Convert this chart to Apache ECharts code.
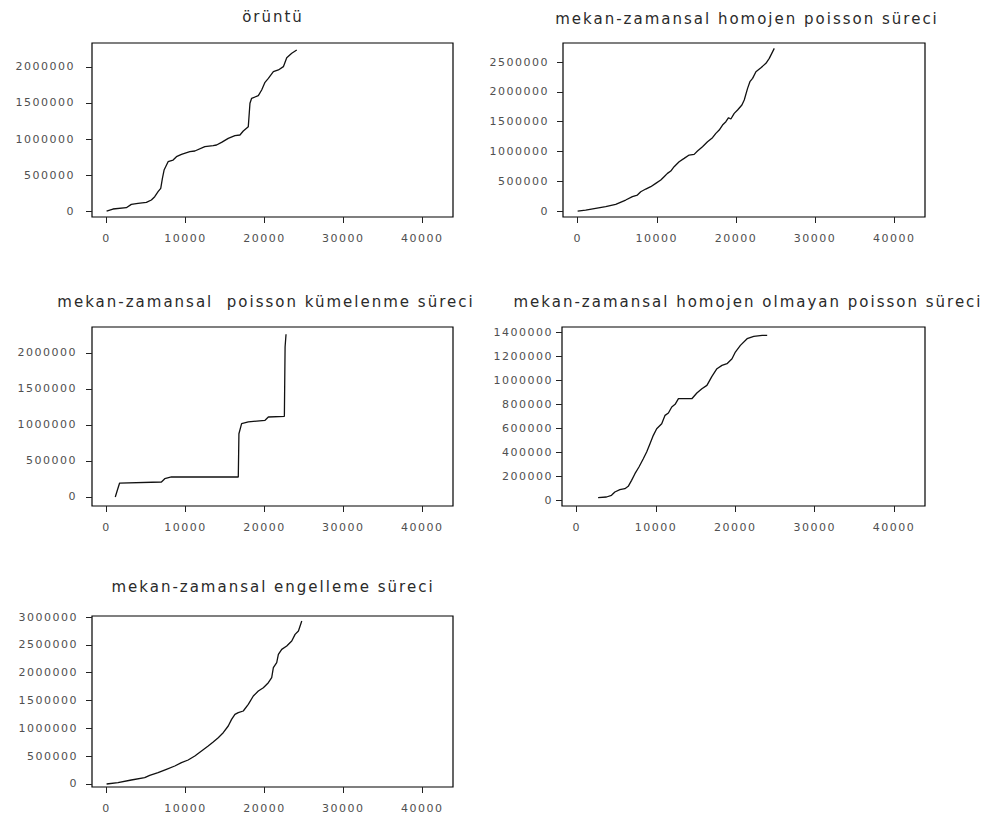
<!DOCTYPE html>
<html>
<head>
<meta charset="utf-8">
<script src="https://cdn.jsdelivr.net/npm/echarts@6/dist/echarts.min.js"></script>
<style>
  html, body { margin: 0; padding: 0; background: #fff; }
  #chart { width: 984px; height: 832px; }
  #chart text { letter-spacing: 1.5px; }
  #chart text[style*="15px"] { letter-spacing: 2px; }
</style>
</head>
<body>
<div id="chart"></div>
<script>
// Shared x-axis ticks (time)
const xTicks = [0, 10000, 20000, 30000, 40000];

// örüntü
const patternX = [0, 805, 2499, 3134, 3981, 5040, 5675, 6099, 6522, 6861, 7073, 7285, 7793, 8428, 8852, 9487, 10546, 11181, 12452, 13510, 13934, 14569, 15416, 16264, 16899, 17322, 17957, 18170, 18381, 19228, 19652, 20075, 20499, 21134, 21770, 22405, 22829, 23464, 24099];
const patternY = [0, 27800, 46300, 92600, 106500, 120400, 152800, 199100, 268500, 314800, 453700, 569400, 685200, 708300, 754600, 787000, 824100, 833300, 893500, 907400, 916700, 953700, 1009300, 1046300, 1055600, 1111100, 1171300, 1495400, 1564800, 1601900, 1680600, 1787000, 1842600, 1935200, 1958300, 2004600, 2129600, 2189800, 2236100];
const patternTicks = [0, 500000, 1000000, 1500000, 2000000];

// homojen poisson
const homX = [0, 1013, 2278, 3544, 4810, 6076, 6920, 7553, 7975, 8607, 9240, 9873, 10506, 10928, 11350, 11772, 12194, 12826, 13460, 14092, 14725, 15147, 15780, 16413, 17046, 17468, 17890, 18312, 18734, 19072, 19367, 19789, 20211, 20760, 21055, 21477, 21772, 22110, 22532, 23165, 23797, 24219, 24852];
const homY = [0, 16800, 44700, 72700, 111900, 184600, 240500, 268500, 324400, 369100, 408300, 464200, 520100, 576100, 632000, 671200, 743900, 827800, 883700, 939600, 950800, 1006700, 1079500, 1163400, 1230500, 1303200, 1359100, 1443000, 1498900, 1566000, 1543700, 1638800, 1694700, 1778600, 1862500, 2058200, 2170100, 2226000, 2337800, 2405000, 2477700, 2561600, 2729400];
const homTicks = [0, 500000, 1000000, 1500000, 2000000, 2500000];

// poisson kümelenme
const clusterX = [1100, 1360, 1650, 6950, 7370, 8220, 16690, 16770, 17110, 17960, 20080, 20500, 22530, 22620, 22740];
const clusterY = [0, 93000, 194000, 208000, 254000, 278000, 278000, 879000, 1018000, 1042000, 1065000, 1111000, 1120000, 2083000, 2260000];
const clusterTicks = [0, 500000, 1000000, 1500000, 2000000];

// homojen olmayan poisson
const inhomX = [2700, 3755, 4388, 4810, 5443, 6076, 6498, 6920, 7342, 7848, 8397, 8819, 9240, 9662, 10084, 10717, 11139, 11561, 11983, 12405, 12826, 14514, 15147, 15780, 16413, 17046, 17679, 18312, 18945, 19578, 20000, 20633, 21477, 22321, 23376, 24009];
const inhomY = [19400, 25000, 38900, 66700, 86100, 94400, 113900, 163900, 219400, 275000, 344400, 400000, 469400, 538900, 594400, 636100, 705600, 725000, 775000, 797200, 844400, 844400, 891700, 927800, 955600, 1030600, 1094400, 1122200, 1136100, 1177800, 1233300, 1288900, 1344400, 1363900, 1372200, 1372200];
const inhomTicks = [0, 200000, 400000, 600000, 800000, 1000000, 1200000, 1400000];

// engelleme
const inhibX = [0, 1440, 3134, 4828, 5464, 6522, 7581, 8640, 9487, 10334, 11181, 12028, 12875, 13510, 14146, 14781, 15416, 15840, 16264, 16687, 17322, 17957, 18593, 19228, 19864, 20499, 20923, 21134, 21558, 21770, 22194, 22829, 23464, 23887, 24311, 24734];
const inhibY = [0, 23900, 71900, 113800, 155600, 203600, 263500, 323300, 383200, 431100, 503000, 592800, 682600, 754400, 832300, 922100, 1041900, 1161600, 1251400, 1281300, 1311300, 1431100, 1580800, 1670600, 1730400, 1820200, 1910000, 2089600, 2179500, 2329200, 2419000, 2478900, 2568700, 2688500, 2748300, 2928000];
const inhibTicks = [0, 500000, 1000000, 1500000, 2000000, 2500000, 3000000];

const titles = [
  'örüntü',
  'mekan-zamansal homojen poisson süreci',
  'mekan-zamansal  poisson kümelenme süreci',
  'mekan-zamansal homojen olmayan poisson süreci',
  'mekan-zamansal engelleme süreci'
];

const panels = [
  { x: patternX, y: patternY, yTicks: patternTicks, ymin: -83000, ymax: 2333000,
    grid: { left: 92, top: 43, width: 361, height: 174 }, title: [273, 9], ylabMargin: 17 },
  { x: homX, y: homY, yTicks: homTicks, ymin: -100000, ymax: 2819000,
    grid: { left: 563, top: 43, width: 362, height: 174 }, title: [747, 11], ylabMargin: 14 },
  { x: clusterX, y: clusterY, yTicks: clusterTicks, ymin: -125000, ymax: 2361000,
    grid: { left: 92, top: 327, width: 361, height: 179 }, title: [266, 294], ylabMargin: 15 },
  { x: inhomX, y: inhomY, yTicks: inhomTicks, ymin: -50000, ymax: 1442000,
    grid: { left: 562, top: 327, width: 363, height: 179 }, title: [748, 294], ylabMargin: 9 },
  { x: inhibX, y: inhibY, yTicks: inhibTicks, ymin: -54000, ymax: 3018000,
    grid: { left: 92, top: 616, width: 361, height: 171 }, title: [273, 579], ylabMargin: 14 }
];

const labelStyle = { fontFamily: 'DejaVu Sans', fontSize: 11, color: '#505050' };
const plain = v => String(v);

const option = {
  backgroundColor: '#fff',
  animation: false,
  title: panels.map((p, i) => ({
    text: titles[i],
    left: p.title[0],
    top: p.title[1],
    textAlign: 'center',
    padding: 0,
    textStyle: { fontFamily: 'DejaVu Sans', fontSize: 15, fontWeight: 'normal', color: '#2a2a2a' }
  })),
  grid: panels.map(p => Object.assign({
    show: true, borderColor: '#000', borderWidth: 1.2, backgroundColor: 'transparent',
    containLabel: false
  }, p.grid)),
  xAxis: panels.map((p, i) => ({
    type: 'value', gridIndex: i, min: -1850, max: 43900,
    position: 'bottom',
    axisLine: { show: false, onZero: false },
    splitLine: { show: false },
    axisTick: { show: true, inside: false, length: 6, customValues: xTicks,
      lineStyle: { color: '#222', width: 1 } },
    axisLabel: Object.assign({ customValues: xTicks, margin: 16, formatter: plain }, labelStyle)
  })),
  yAxis: panels.map((p, i) => ({
    type: 'value', gridIndex: i, min: p.ymin, max: p.ymax,
    position: 'left',
    axisLine: { show: false, onZero: false },
    splitLine: { show: false },
    axisTick: { show: true, inside: false, length: 6, customValues: p.yTicks,
      lineStyle: { color: '#222', width: 1 } },
    axisLabel: Object.assign({ customValues: p.yTicks, margin: p.ylabMargin, formatter: plain }, labelStyle)
  })),
  series: panels.map((p, i) => ({
    type: 'line',
    xAxisIndex: i, yAxisIndex: i,
    data: p.x.map((xv, k) => [xv, p.y[k]]),
    showSymbol: false,
    symbol: 'none',
    lineStyle: { color: '#111', width: 1.3 },
    silent: true
  }))
};

const chart = echarts.init(document.getElementById('chart'), null, { renderer: 'svg' });
chart.setOption(option);
</script>
</body>
</html>
